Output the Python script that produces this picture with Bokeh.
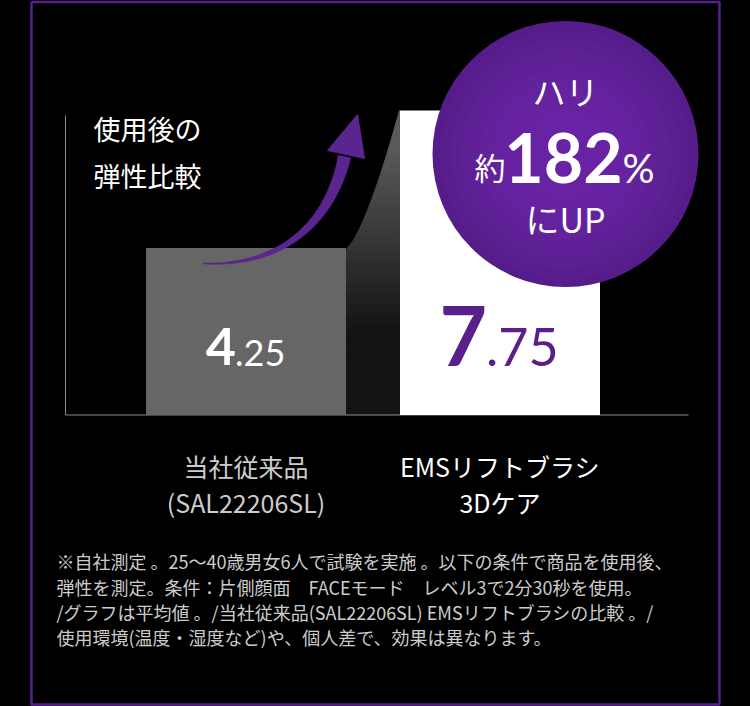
import numpy as np
from bokeh.plotting import figure
from bokeh.models import Range1d
from bokeh.core.properties import value
from bokeh.embed import file_html
from bokeh.resources import INLINE

# ---------------- data ----------------
categories_line1 = ["当社従来品", "EMSリフトブラシ"]
categories_line2 = ["(SAL22206SL)", "3Dケア"]
values = [4.25, 7.75]
bar_colors = ["#666666", "#ffffff"]
value_colors = ["#ffffff", "#5a2089"]
category_colors = ["#cccccc", "#ffffff"]
title_lines = ["使用後の", "弾性比較"]
badge_top = "ハリ"
badge_prefix = "約"
badge_number = "182"
badge_suffix = "%"
badge_bottom = "にUP"
note_lines = [
    "※自社測定 。25～40歳男女6人で試験を実施 。以下の条件で商品を使用後、",
    "弾性を測定。条件：片側顔面　FACEモード　レベル3で2分30秒を使用。",
    "/グラフは平均値 。/当社従来品(SAL22206SL) EMSリフトブラシの比較 。/",
    "使用環境(温度・湿度など)や、個人差で、効果は異なります。",
]

# ---------------- layout helpers (reference pixel -> data) ----------------
W, H = 750, 706
BAR0_PX, STEP_PX = 245.5, 254.0
BASE_PX, K = 414.5, 39.3


def X(px):
    return (px - BAR0_PX) / STEP_PX


def Y(py):
    return (BASE_PX - py) / K


def PY(v):
    return BASE_PX - v * K


JP = value("Noto Sans CJK JP")
NUM = value("Lato")

p = figure(width=W, height=H, x_range=Range1d(X(0), X(W)), y_range=Range1d(Y(H), Y(0)),
           output_backend="svg", toolbar_location=None, min_border=0,
           min_border_left=0, min_border_right=0, min_border_top=0, min_border_bottom=0)
p.axis.visible = False
p.grid.visible = False
p.background_fill_color = "#000000"
p.border_fill_color = "#000000"
p.outline_line_color = None

# frame border
bx = [X(31), X(719), X(719), X(31), X(31)]
by = [Y(1.5), Y(1.5), Y(704), Y(704), Y(1.5)]
p.line(bx, by, line_color="#5a1f8f", line_width=2.5)

# shading between bars (horizontal bands following a curved edge)
x_left_bar, x_right_bar = 346.0, 399.0
top0, top1 = PY(values[0]), PY(values[1])


def curve_x(py):
    if py >= top0:
        return x_left_bar
    g = (top0 - py) / (top0 - top1)
    return x_left_bar + g ** (1 / 1.4) * (x_right_bar - x_left_bar)


edges = np.linspace(top1, BASE_PX, 90)
xs, ys, cols = [], [], []
for a, b in zip(edges[:-1], edges[1:]):
    ym = 0.5 * (a + b)
    if ym < 150:
        c = 0x5a
    elif ym < 330:
        c = int(0x5a + (0x15 - 0x5a) * (ym - 150) / 180)
    else:
        c = 0x14
    xs.append([X(curve_x(b)), X(x_right_bar), X(x_right_bar), X(curve_x(a))])
    ys.append([Y(b), Y(b), Y(a), Y(a)])
    cols.append("#%02x%02x%02x" % (c, c, c))
p.patches(xs, ys, fill_color=cols, line_color=cols, line_width=1)

# axis lines
p.line([X(65), X(65)], [Y(115), Y(BASE_PX)], line_color="#8a8a8a", line_width=1)
p.line([X(65), X(688)], [Y(BASE_PX), Y(BASE_PX)], line_color="#8a8a8a", line_width=1.2)

# bars
idx = list(range(len(values)))
p.vbar(x=idx, top=values, bottom=0, width=200 / STEP_PX, fill_color=bar_colors, line_color=None)

# arrow
t = np.linspace(0, 1, 80)[:, None]
P0, P1, P2, P3 = [np.array(q, float) for q in [(203, 263), (282, 266), (330, 222), (344, 156)]]
pts = (1 - t) ** 3 * P0 + 3 * (1 - t) ** 2 * t * P1 + 3 * (1 - t) * t ** 2 * P2 + t ** 3 * P3
d = 3 * (1 - t) ** 2 * (P1 - P0) + 6 * (1 - t) * t * (P2 - P1) + 3 * t ** 2 * (P3 - P2)
nrm = np.stack([-d[:, 1], d[:, 0]], 1)
nrm /= np.linalg.norm(nrm, axis=1)[:, None]
hw = (0.4 + 6.0 * t[:, 0] ** 1.1)[:, None]
left = pts + nrm * hw
right = pts - nrm * hw
poly = np.vstack([left, right[::-1]])
arrow_col = "#5b2590"
p.patch([X(v) for v in poly[:, 0]], [Y(v) for v in poly[:, 1]], fill_color=arrow_col, line_color=arrow_col, line_width=0.5)
p.patch([X(357), X(327), X(364)], [Y(114), Y(150), Y(158)], fill_color=arrow_col, line_color=arrow_col)

# title
p.text(x=[X(93)] * 2, y=[Y(128), Y(175)], text=title_lines, text_font=JP, text_font_size="27px",
       text_color="#ffffff", text_align="left", text_baseline="middle")

# value labels (integer part large, fraction smaller)
int_parts = [f"{v:.2f}".split(".")[0] for v in values]
frac_parts = ["." + f"{v:.2f}".split(".")[1] for v in values]
p.text(x=idx, y=[Y(346), Y(335)], text=int_parts, x_offset=[-10, -13], text_font=NUM,
       text_font_style="bold", text_font_size=["52px", "82px"], text_color=value_colors,
       text_align="right", text_baseline="middle")
p.text(x=idx, y=[Y(352), Y(346)], text=frac_parts, x_offset=[-11, -14], text_font=NUM,
       text_font_size=["36px", "52px"], text_color=value_colors,
       text_align="left", text_baseline="middle")

# category labels
p.text(x=idx, y=[Y(465)] * 2, text=categories_line1, text_font=JP, text_font_size="25px",
       text_color=category_colors, text_align="center", text_baseline="middle")
p.text(x=idx, y=[Y(501)] * 2, text=categories_line2, text_font=JP, text_font_size="25px",
       text_color=category_colors, text_align="center", text_baseline="middle")

# badge circle with soft radial shading
cx, cy = X(565), Y(153.5)
p.scatter(x=[cx], y=[cy], size=266, marker="circle", fill_color="#561d8a", line_color=None)
for s in np.linspace(250, 90, 9):
    p.scatter(x=[cx], y=[cy], size=float(s), marker="circle", fill_color="#7a30b8",
              fill_alpha=0.09, line_color=None)

p.text(x=[cx], y=[Y(90)], text=[badge_top], text_font=JP, text_font_size="33px",
       text_color="#ffffff", text_align="center", text_baseline="middle")
p.text(x=[X(505)], y=[Y(166)], text=[badge_prefix], text_font=JP, text_font_size="31px",
       text_color="#ffffff", text_align="right", text_baseline="middle")
p.text(x=[X(563)], y=[Y(157)], text=[badge_number], text_font=NUM, text_font_style="bold",
       text_font_size="68px", text_color="#ffffff", text_align="center", text_baseline="middle")
p.text(x=[X(622)], y=[Y(167)], text=[badge_suffix], text_font=NUM, text_font_size="40px",
       text_color="#ffffff", text_align="left", text_baseline="middle")
p.text(x=[cx], y=[Y(218)], text=[badge_bottom], text_font=JP, text_font_size="34px",
       text_color="#ffffff", text_align="center", text_baseline="middle")

# footnote
p.text(x=[X(56)] * 4, y=[Y(560), Y(586), Y(611), Y(636)], text=note_lines, text_font=JP,
       text_font_size="18px", text_color="#cccccc", text_align="left", text_baseline="middle")

open("out.html", "w").write(file_html(p, INLINE).replace("<body>", '<body style="background:#000000">'))
